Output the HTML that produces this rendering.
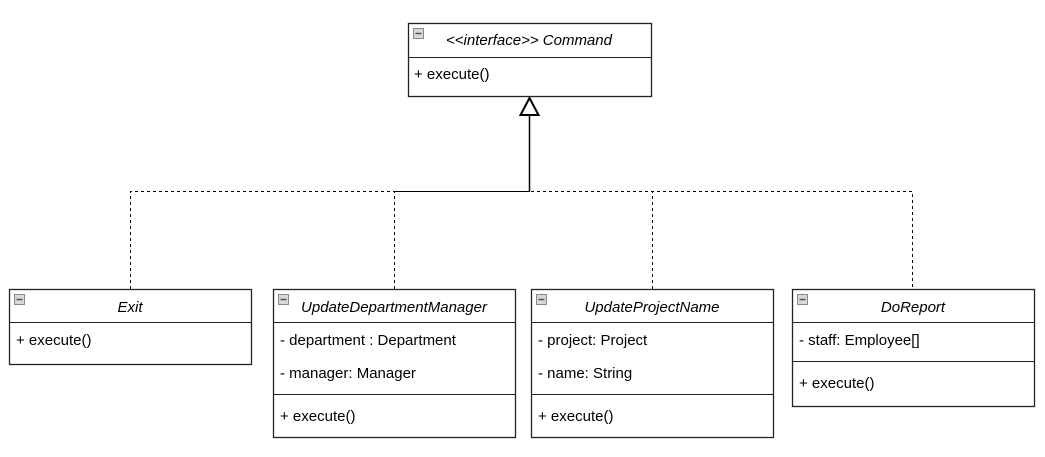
<!DOCTYPE html>
<html><head><style>
html,body{margin:0;padding:0;background:#fff;}
svg text{font-family:"Liberation Sans",Arial,sans-serif;font-size:15px;fill:#000;}
.it{font-style:italic;}
</style></head><body>
<svg width="1045" height="452" viewBox="0 0 1045 452" xmlns="http://www.w3.org/2000/svg">
<g fill="none" stroke="#000" stroke-width="1" stroke-dasharray="3,3">
<path d="M130.5 289V191.5H912.5V289"/>
<path d="M394.5 289V191.5"/>
<path d="M652.5 289V191.5"/>
</g>
<path d="M529.5 191.5V115" stroke="#000" stroke-width="1.5"/>
<path d="M529.5 191.5H394.5" stroke="#000" stroke-width="1"/>
<polygon points="529.5,98 520.5,115 538.5,115" fill="#fff" stroke="#000" stroke-width="2"/>
<g fill="#fff" stroke="#222" stroke-width="1.3">
<rect x="408.5" y="23.5" width="243" height="73"/>
<rect x="9.5" y="289.5" width="242" height="75"/>
<rect x="273.5" y="289.5" width="242" height="148"/>
<rect x="531.5" y="289.5" width="242" height="148"/>
<rect x="792.5" y="289.5" width="242" height="117"/>
</g>
<g stroke="#222" stroke-width="1">
<path d="M408 57.5H651"/>
<path d="M9 322.5H251"/>
<path d="M273 322.5H515M273 394.5H515"/>
<path d="M531 322.5H773M531 394.5H773"/>
<path d="M792 322.5H1034M792 361.5H1034"/>
</g>
<g fill="#d8d8d8" stroke="#888" stroke-width="1">
<rect x="413.5" y="28.5" width="10" height="10"/>
<rect x="14.5" y="294.5" width="10" height="10"/>
<rect x="278.5" y="294.5" width="10" height="10"/>
<rect x="536.5" y="294.5" width="10" height="10"/>
<rect x="797.5" y="294.5" width="10" height="10"/>
</g>
<g stroke="#555" stroke-width="1.5">
<path d="M415.5 33.5h6M16.5 299.5h6M280.5 299.5h6M538.5 299.5h6M799.5 299.5h6"/>
</g>
<text class="it" x="529" y="45" text-anchor="middle">&lt;&lt;interface&gt;&gt; Command</text>
<text x="414" y="79">+ execute()</text>
<text class="it" x="130" y="312" text-anchor="middle">Exit</text>
<text x="16" y="345">+ execute()</text>
<text class="it" x="394" y="312" text-anchor="middle">UpdateDepartmentManager</text>
<text x="280" y="345">- department : Department</text>
<text x="280" y="378">- manager: Manager</text>
<text x="280" y="421">+ execute()</text>
<text class="it" x="652" y="312" text-anchor="middle">UpdateProjectName</text>
<text x="538" y="345">- project: Project</text>
<text x="538" y="378">- name: String</text>
<text x="538" y="421">+ execute()</text>
<text class="it" x="913" y="312" text-anchor="middle">DoReport</text>
<text x="799" y="345">- staff: Employee[]</text>
<text x="799" y="388">+ execute()</text>
</svg>
</body></html>
